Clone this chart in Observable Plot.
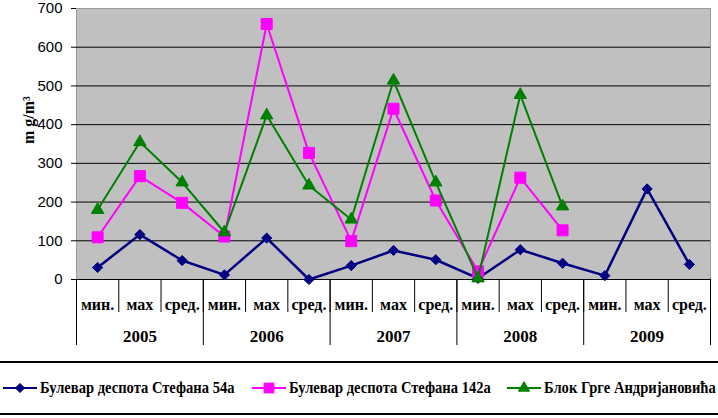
<!DOCTYPE html>
<html><head><meta charset="utf-8">
<script src="https://cdn.jsdelivr.net/npm/d3@7"></script>
<script src="https://cdn.jsdelivr.net/npm/@observablehq/plot@0.6"></script>
<style>
body{margin:0;background:#fff;width:718px;height:418px;overflow:hidden;position:relative;}
#chart svg{display:block;}
#legend{position:absolute;left:0;top:361px;width:718px;height:50px;border-top:2px solid #000;border-bottom:2px solid #000;font-family:'Liberation Serif';font-weight:bold;font-size:16px;color:#000;}
.item{position:absolute;top:0;height:50px;display:flex;align-items:center;white-space:nowrap;}
.item svg{display:block;margin-right:3px;}
.item span{display:inline-block;transform:scaleX(0.91);transform-origin:left center;}
</style>
</head><body>
<div id="chart"></div>
<div id="legend"></div>
<script>
const categories = ["мин.", "мах", "сред."];
const years = ["2005", "2006", "2007", "2008", "2009"];
const yTicks = [0, 100, 200, 300, 400, 500, 600, 700];
const seriesNames = ["Булевар деспота Стефана 54а", "Булевар деспота Стефана 142а", "Блок Грге Андријановића"];
const seriesColors = ["#000080", "#ff00ff", "#008000"];
const seriesSymbols = ["diamond2", "square", "triangle"];
const seriesR = [4.6, 6.2, 4.6];
const s1 = [31, 116, 49, 12, 107, 0, 36, 75, 51, 3, 77, 42, 10, 234, 39];
const s2 = [109, 267, 198, 111, 660, 327, 99, 441, 204, 21, 263, 127, null, null, null];
const s3 = [180, 355, 251, 122, 424, 243, 155, 514, 251, 3, 477, 189, null, null, null];
const seriesValues = [s1, s2, s3];
const legendX = [3, 252, 507];

const nCat = years.length * categories.length;
const seriesMarks = seriesValues.flatMap((vals, k) => {
  const rows = vals.map((v, i) => ({i: i + 0.5, v}));
  const pts = rows.filter(d => d.v != null);
  return [
    Plot.line(rows, {x: "i", y: "v", stroke: seriesColors[k], strokeWidth: k === 0 ? 2.5 : 2}),
    Plot.dot(pts, {x: "i", y: "v", symbol: () => seriesSymbols[k], r: seriesR[k], fill: seriesColors[k], stroke: seriesColors[k], strokeWidth: 1})
  ];
});

const serif = "'Liberation Serif'";
const plot = Plot.plot({
  width: 718, height: 350,
  marginTop: 8, marginLeft: 76, marginRight: 8, marginBottom: 71,
  x: {domain: [0, nCat], axis: null},
  y: {domain: [0, 700], axis: null},
  symbol: {type: "identity"},
  style: {background: "#fff", color: "#000", overflow: "visible"},
  marks: [
    Plot.frame({fill: "#c0c0c0", stroke: "#9a9a9a"}),
    Plot.ruleY(yTicks.filter(d => d > 0 && d < 700), {stroke: "#000", strokeWidth: 1}),
    Plot.ruleY([0], {stroke: "#000", strokeWidth: 1}),
    Plot.axisY({ticks: yTicks, tickSize: 5, tickPadding: 9, fontSize: 15, fontFamily: "'Liberation Sans'", label: null}),
    Plot.axisX({ticks: d3.range(0, nCat + 1), tickSize: 33, tickFormat: () => "", label: null}),
    Plot.axisX({ticks: d3.range(0, nCat + 1, categories.length), tickSize: 66, tickFormat: () => "", label: null}),
    Plot.axisX({ticks: d3.range(nCat).map(i => i + 0.5), tickSize: 0, tickPadding: 19,
      tickFormat: d => categories[Math.floor(d) % categories.length],
      fontSize: 16, fontWeight: "bold", fontFamily: serif, label: null}),
    Plot.axisX({ticks: years.map((y, j) => j * categories.length + categories.length / 2), tickSize: 0, tickPadding: 50,
      tickFormat: d => years[Math.floor(d / categories.length)],
      fontSize: 17, fontWeight: "bold", fontFamily: serif, label: null}),
    Plot.text(["m g/m³"], {frameAnchor: "left", rotate: -90, dx: -48, fontSize: 16, fontWeight: "bold", fontFamily: serif, fill: "#000"}),
    ...seriesMarks
  ]
});
document.getElementById("chart").appendChild(plot);

const legend = d3.select("#legend");
const symTypes = {diamond2: d3.symbolDiamond2, square: d3.symbolSquare, triangle: d3.symbolTriangle};
seriesNames.forEach((name, k) => {
  const item = legend.append("div").attr("class", "item").style("left", legendX[k] + "px");
  const svg = item.append("svg").attr("width", 34).attr("height", 14);
  svg.append("line").attr("x1", 0).attr("x2", 34).attr("y1", 7).attr("y2", 7)
    .attr("stroke", seriesColors[k]).attr("stroke-width", 2);
  svg.append("path").attr("transform", "translate(17,7)")
    .attr("d", d3.symbol(symTypes[seriesSymbols[k]], Math.PI * seriesR[k] * seriesR[k] * 0.8)())
    .attr("fill", seriesColors[k]).attr("stroke", seriesColors[k]);
  item.append("span").text(name);
});
</script>
</body></html>
